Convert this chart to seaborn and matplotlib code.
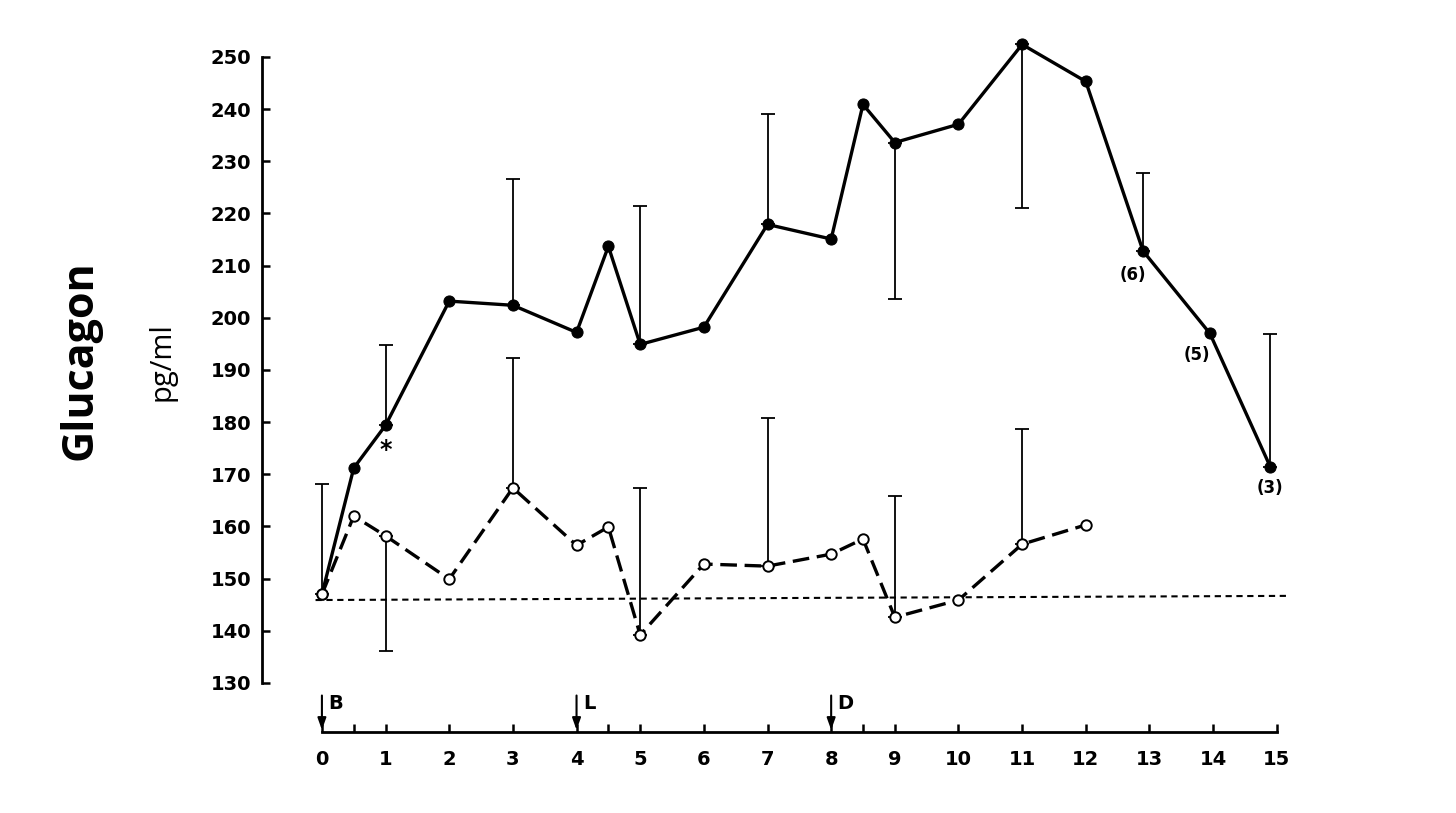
import numpy as np
import pandas as pd
import seaborn as sns
import matplotlib.pyplot as plt

# values (hours vs pg/ml)
hours_solid = [0, 0.5, 1, 2, 3, 4, 4.5, 5, 6, 7, 8, 8.5, 9, 10, 11, 12, 12.9, 13.95, 14.9]
glucagon_solid = [147, 171.2, 179.4, 203.2, 202.4, 197.2, 213.7, 194.9, 198.2, 217.9,
                  215.1, 240.9, 233.6, 237.1, 252.4, 245.3, 212.8, 197.0, 171.4]
hours_open = [0, 0.5, 1, 2, 3, 4, 4.5, 5, 6, 7, 8, 8.5, 9, 10, 11, 12]
glucagon_open = [147, 162.0, 158.2, 149.9, 167.4, 156.4, 159.9, 139.2, 152.8, 152.4,
                 154.7, 157.6, 142.6, 145.9, 156.6, 160.3]

# one-sided SEM bars: (hour, mean, end of bar)
err_solid_x = [0, 1, 3, 5, 7, 9, 11, 12.9, 14.9]
err_solid_mean = [147, 179.4, 202.4, 194.9, 217.9, 233.6, 252.4, 212.8, 171.4]
err_solid_end = [168.1, 194.7, 226.7, 221.4, 239.0, 203.6, 221.0, 227.7, 196.9]
err_open_x = [1, 3, 5, 7, 9, 11]
err_open_mean = [158.2, 167.4, 139.2, 152.4, 142.6, 156.6]
err_open_end = [136.1, 192.3, 167.3, 180.8, 165.8, 178.7]

baseline_x = [-0.1, 15.2]
baseline_y = [145.9, 146.7]

n_labels = ["(6)", "(5)", "(3)"]
n_label_x = [12.74, 13.74, 14.9]
n_label_y = [208.2, 192.8, 167.4]

meal_labels = ["B", "L", "D"]
meal_hours = [0, 4, 8]

sns.set_style("ticks")
plt.rcParams['font.family'] = ['DejaVu Sans']
plt.rcParams.update({"text.color": "black", "axes.edgecolor": "black",
                     "xtick.color": "black", "ytick.color": "black",
                     "axes.labelcolor": "black"})

fig = plt.figure(figsize=(14.56, 8.13), dpi=100)
ax = fig.add_axes([0.18, 0.0996, 0.71, 0.856])

df_s = pd.DataFrame({"h": hours_solid, "g": glucagon_solid})
df_o = pd.DataFrame({"h": hours_open, "g": glucagon_open})

# SEM bars first so markers sit on top
def sem_bars(xs, means, ends):
    for x, m, e in zip(xs, means, ends):
        lo = max(m - e, 0)
        hi = max(e - m, 0)
        ax.errorbar([x], [m], yerr=[[lo], [hi]], fmt="none", ecolor="black",
                    elinewidth=1.3, capsize=5, capthick=1.3, zorder=2)

sem_bars(err_solid_x, err_solid_mean, err_solid_end)
sem_bars(err_open_x, err_open_mean, err_open_end)

ax.plot(baseline_x, baseline_y, color="black", lw=1.5, linestyle=(0, (3, 2.2)), zorder=1)

sns.lineplot(data=df_s, x="h", y="g", ax=ax, sort=False, estimator=None,
             color="black", lw=2.4, marker="o", markersize=8,
             markerfacecolor="black", markeredgecolor="black", zorder=4)
sns.lineplot(data=df_o, x="h", y="g", ax=ax, sort=False, estimator=None,
             color="black", lw=2.4, linestyle=(0, (5, 2.3)), marker="o", markersize=7.5,
             markerfacecolor="white", markeredgecolor="black", markeredgewidth=1.4, zorder=5)

ax.text(1.0, 174.6, "*", ha="center", va="center", fontsize=17, fontweight="bold")
for t, x, y in zip(n_labels, n_label_x, n_label_y):
    ax.text(x, y, t, ha="center", va="center", fontsize=12, fontweight="bold")

for t, x in zip(meal_labels, meal_hours):
    ax.annotate("", xy=(x, 121.0), xytext=(x, 127.6),
                arrowprops=dict(arrowstyle="-|>,head_length=0.7,head_width=0.25",
                                color="black", lw=1.5, shrinkA=0, shrinkB=0))
    ax.text(x + 0.1, 126.0, t, ha="left", va="center", fontsize=14, fontweight="bold")

ax.set_xlim(-0.94, 15.3)
ax.set_ylim(120.6, 254)
ax.spines["top"].set_visible(False)
ax.spines["right"].set_visible(False)
ax.spines["left"].set_bounds(130, 250)
ax.spines["bottom"].set_bounds(0, 15)
ax.spines["left"].set_linewidth(2)
ax.spines["bottom"].set_linewidth(2)

ax.set_yticks(np.arange(130, 251, 10))
ax.set_xticks(np.arange(0, 16, 1))
ax.set_xticks([0.5, 4.5, 8.5], minor=True)
ax.tick_params(axis="both", which="both", direction="in", length=6, width=1.8,
               labelsize=14, pad=8)
ax.tick_params(axis="x", which="both", pad=13)
for lab in ax.get_xticklabels() + ax.get_yticklabels():
    lab.set_fontweight("bold")

ax.set_xlabel("")
ax.set_ylabel("")
fig.text(0.055, 0.557, "Glucagon", rotation=90, ha="center", va="center",
         fontsize=31, fontweight="bold", family=["Open Sans", "DejaVu Sans"])
fig.text(0.111, 0.555, "pg/ml", rotation=90, ha="center", va="center",
         fontsize=21, family=["Open Sans", "DejaVu Sans"])

fig.savefig("out.png", dpi=100)
